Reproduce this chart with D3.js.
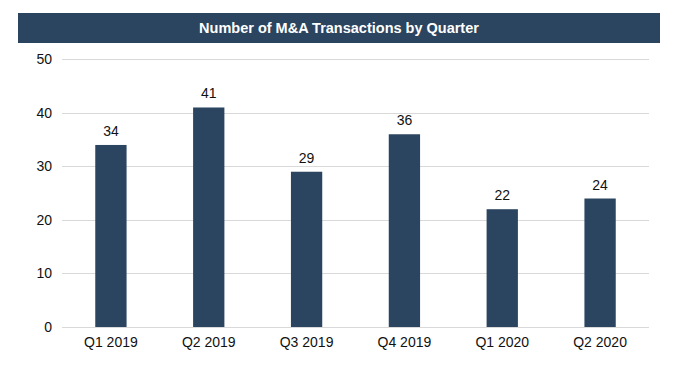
<!DOCTYPE html>
<html>
<head>
<meta charset="utf-8">
<script src="https://cdn.jsdelivr.net/npm/d3@7"></script>
<style>
  body { margin: 0; background: #fff; }
  text { font-family: "Liberation Sans", Arial, sans-serif; }
</style>
</head>
<body>
<div id="chart"></div>
<script>
// datos
var quarters = ["Q1 2019", "Q2 2019", "Q3 2019", "Q4 2019", "Q1 2020", "Q2 2020"];
var deals = [34, 41, 29, 36, 22, 24];
var yTicks = [0, 10, 20, 30, 40, 50];
var title = "Number of M&A Transactions by Quarter";

var width = 675, height = 372;
var margin = {top: 59.3, right: 26, bottom: 45, left: 62};
var navy = "#2b4560";

var svg = d3.select("#chart").append("svg")
    .attr("width", width)
    .attr("height", height);

// barra del titulo
svg.append("rect")
    .attr("x", 18).attr("y", 13)
    .attr("width", 642).attr("height", 30)
    .attr("fill", navy);

svg.append("text")
    .attr("x", 339).attr("y", 33)
    .attr("text-anchor", "middle")
    .attr("fill", "#fff")
    .attr("font-size", 14.5)
    .attr("font-weight", "bold")
    .text(title);

var x = d3.scaleBand()
    .domain(quarters)
    .range([margin.left, width - margin.right])
    .paddingInner(0.68)
    .paddingOuter(0.34);

var y = d3.scaleLinear()
    .domain([0, 50])
    .range([327, margin.top]);

// lineas de cuadricula
svg.append("g")
    .selectAll("line")
    .data(yTicks).enter()
    .append("line")
    .attr("x1", margin.left)
    .attr("x2", width - margin.right)
    .attr("y1", d => Math.round(y(d)) + 0.5)
    .attr("y2", d => Math.round(y(d)) + 0.5)
    .attr("stroke", "#d9d9d9")
    .attr("stroke-width", 1);

// eje Y
var ejeY = d3.axisLeft(y).tickValues(yTicks).tickSize(0).tickPadding(0);
svg.append("g")
    .attr("transform", "translate(52,0)")
    .call(ejeY)
    .call(g => g.select(".domain").remove())
    .selectAll("text")
    .attr("font-size", 14)
    .attr("fill", "#111");

// barras
svg.append("g")
    .selectAll("rect")
    .data(deals).enter()
    .append("rect")
    .attr("x", (d, i) => x(quarters[i]))
    .attr("y", d => y(d))
    .attr("width", x.bandwidth())
    .attr("height", d => y(0) - y(d))
    .attr("fill", navy);

// etiquetas de valor
svg.append("g")
    .selectAll("text")
    .data(deals).enter()
    .append("text")
    .attr("x", (d, i) => x(quarters[i]) + x.bandwidth() / 2)
    .attr("y", d => y(d) - 9)
    .attr("text-anchor", "middle")
    .attr("font-size", 14)
    .attr("fill", "#111")
    .text(d => d);

// eje X
var ejeX = d3.axisBottom(x).tickSize(0).tickPadding(10);
svg.append("g")
    .attr("transform", "translate(0,327)")
    .call(ejeX)
    .call(g => g.select(".domain").remove())
    .selectAll("text")
    .attr("font-size", 14)
    .attr("fill", "#111");
</script>
</body>
</html>
